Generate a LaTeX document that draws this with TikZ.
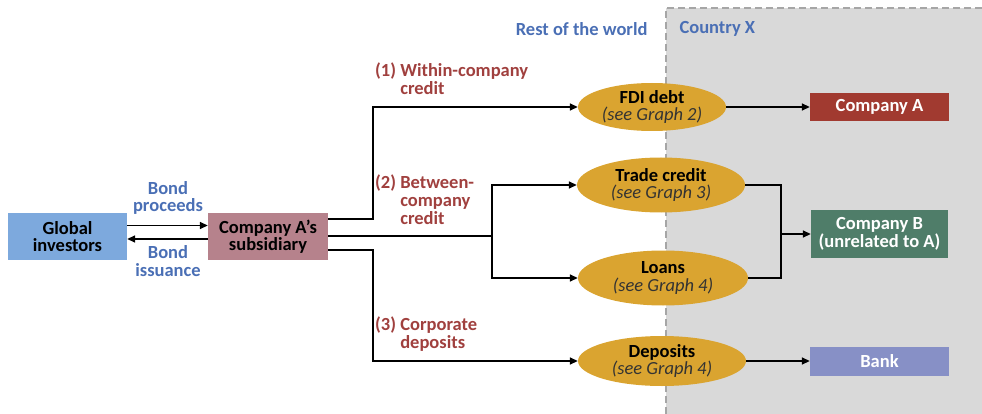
\documentclass[tikz,border=0pt]{standalone}
\usepackage{fontspec}
\setmainfont{Carlito}
\usetikzlibrary{arrows.meta,shapes.geometric}

\definecolor{worldblue}{HTML}{4A6FB5}
\definecolor{flowred}{HTML}{A0403E}
\definecolor{investblue}{HTML}{7DA9DD}
\definecolor{submauve}{HTML}{B6828C}
\definecolor{flowgold}{HTML}{DAA430}
\definecolor{compared}{HTML}{A13A30}
\definecolor{compbgreen}{HTML}{4F7D69}
\definecolor{bankblue}{HTML}{8790C6}
\definecolor{countrygray}{HTML}{D9D9D9}
\newcommand{\seegraph}[1]{{\mdseries\itshape\color{black!80}(see Graph #1)}}

\begin{document}
\begin{tikzpicture}[x=1pt,y=-1pt,
        font=\fontsize{18.5}{17.5}\selectfont\bfseries,
        box/.style={rectangle, align=center, inner sep=1pt},
        flow/.style={ellipse, fill=flowgold, align=center, inner sep=0pt},
        wire/.style={line width=1.6pt},
        flow arrow/.style={wire, -{Triangle[length=8pt,width=7pt]}},
        blue label/.style={text=worldblue, align=center},
        red label/.style={text=flowred, anchor=west, inner sep=0pt},
      ]
      \useasboundingbox (0,0) rectangle (982,414);
      % Country X
      \fill[countrygray] (666,8) rectangle (982,414);
      \draw[gray!70, dash pattern=on 7pt off 4pt, line width=1.5pt] (666,414) -- (666,8) -- (982,8);
      \node[blue label, anchor=east] (world) at (651,29) {Rest of the world};
      \node[blue label, anchor=west] (country) at (676,29) {Country X};

      \node[box, fill=investblue, minimum width=119pt, minimum height=47pt] (inv) at (67.5,236.5) {Global\\investors};
      \node[box, fill=submauve, minimum width=120pt, minimum height=47pt] (sub) at (268,236.5) {Company A's\\subsidiary};

      \node[flow, minimum width=148pt, minimum height=48pt] (fdi) at (652,107) {FDI debt\\\seegraph{2}};
      \node[flow, minimum width=168pt, minimum height=55pt] (trade) at (661,185) {Trade credit\\\seegraph{3}};
      \node[flow, minimum width=170pt, minimum height=55pt] (loans) at (663,278) {Loans\\\seegraph{4}};
      \node[flow, minimum width=168pt, minimum height=50pt] (dep) at (662,361) {Deposits\\\seegraph{4}};

      \node[box, fill=compared, text=white, minimum width=139pt, minimum height=28pt] (compA) at (879.5,107) {Company A};
      \node[box, fill=compbgreen, text=white, minimum width=137pt, minimum height=47pt] (compB) at (879.5,234) {Company B\\(unrelated to A)};
      \node[box, fill=bankblue, text=white, minimum width=139pt, minimum height=29pt] (bank) at (879.5,361) {Bank};

      % bond flows
      \draw[flow arrow] ([yshift=11pt]inv.east) -- ([yshift=11pt]sub.west);
      \draw[flow arrow] ([yshift=-2.5pt]sub.west) -- ([yshift=-2.5pt]inv.east);
      \node[blue label] (proceeds) at (168,198) {Bond\\proceeds};
      \node[blue label] (issuance) at (168,261) {Bond\\issuance};

      % three channels
      \draw[flow arrow] ([yshift=17.5pt]sub.east) -- ++(45,0) |- (fdi.west);
      \coordinate (split) at (492,236);
      \draw[wire] (sub.east |- split) -- (split);
      \draw[flow arrow] (split) |- (trade.west);
      \draw[flow arrow] (split) |- (loans.west);
      \draw[flow arrow] ([yshift=-13.5pt]sub.east) -- ++(45,0) |- (dep.west);

      \node[red label] (within) at (375,81.5) {\begin{tabular}{@{}l@{ }l@{}}(1) & Within-company\\ & credit\end{tabular}};
      \node[red label] (between) at (375,202.5) {\begin{tabular}{@{}l@{ }l@{}}(2) & Between-\\ & company\\ & credit\end{tabular}};
      \node[red label] (corporate) at (375,335.5) {\begin{tabular}{@{}l@{ }l@{}}(3) & Corporate\\ & deposits\end{tabular}};

      % into Country X
      \draw[flow arrow] (fdi.east) -- (compA.west);
      \coordinate (join) at (781,234);
      \draw[wire] (trade.east) -| (join);
      \draw[wire] (loans.east) -| (join);
      \draw[flow arrow] (join) -- (compB.west);
      \draw[flow arrow] (dep.east) -- (bank.west);
    \end{tikzpicture}
\end{document}
